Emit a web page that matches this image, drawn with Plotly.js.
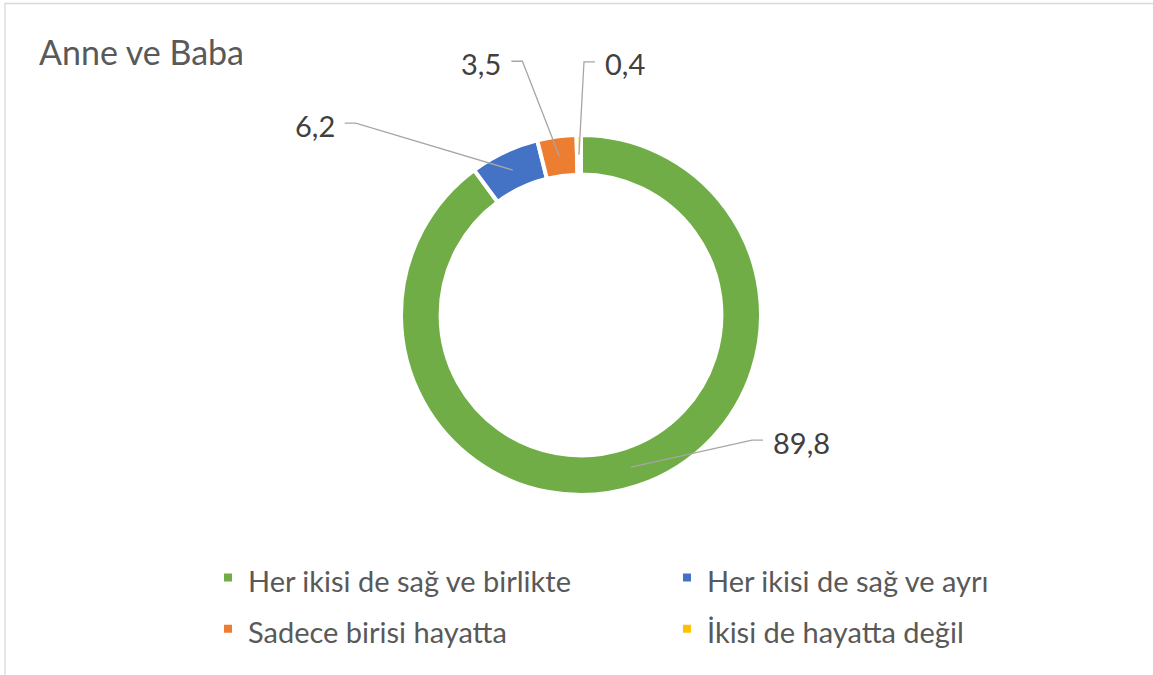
<!DOCTYPE html>
<html><head><meta charset="utf-8">
<script src="https://cdn.plot.ly/plotly-3.0.1.min.js"></script>
<style>html,body{margin:0;padding:0;background:#fff;}#chart{width:1153px;height:675px;}</style>
</head><body><div id="chart"></div>
<script>
const categories = ["Her ikisi de sağ ve birlikte", "Her ikisi de sağ ve ayrı", "Sadece birisi hayatta", "İkisi de hayatta değil"];
const values = [89.8, 6.2, 3.5, 0.4];
const valueLabels = ["89,8", "6,2", "3,5", "0,4"];
const colors = ["#70ad47", "#4472c4", "#ed7d31", "#ffc000"];

const W = 1153, H = 675;
const cx = 581, cy = 315, R = 180, hole = 0.78;
const FONT = "Lato, 'Open Sans', sans-serif";
// label leader geometry (px offsets from slice anchor): elbow dx,dy ; side of horizontal tick
const leader = [
  {dx: 121, dy: -27, side: 1},
  {dx: -157, dy: -47, side: -1},
  {dx: -37, dy: -95, side: -1},
  {dx: 5, dy: -93, side: 1}
];
const px = x => x / W, py = y => 1 - y / H;

const total = values.reduce((a, b) => a + b, 0);
const rMid = R * (1 + hole) / 2;
const shapes = [{type: 'rect', xref: 'paper', yref: 'paper', x0: px(5), x1: 1.2, y0: -0.2, y1: py(3.5),
  line: {color: '#d9d9d9', width: 1.3}, fillcolor: 'rgba(0,0,0,0)', layer: 'below'}];
const annotations = [{text: 'Anne ve Baba', xref: 'paper', yref: 'paper', x: px(37), y: py(52), xanchor: 'left', yanchor: 'middle',
  showarrow: false, font: {family: FONT, size: 34, color: '#595959'}}];
let cum = 0;
values.forEach((v, i) => {
  const ang = (cum + v / 2) / total * 2 * Math.PI;
  cum += v;
  const ax = cx + rMid * Math.sin(ang), ay = cy - rMid * Math.cos(ang);
  const L = leader[i];
  const ex = ax + L.dx, ey = ay + L.dy;
  const hx = ex + L.side * 11;
  shapes.push({type: 'path', xref: 'paper', yref: 'paper',
    path: `M ${px(ax)},${py(ay)} L ${px(ex)},${py(ey)} L ${px(hx)},${py(ey)}`,
    line: {color: '#a6a6a6', width: 1.3}});
  annotations.push({text: valueLabels[i], xref: 'paper', yref: 'paper', x: px(hx + L.side * 8), y: py(ey + 2),
    xanchor: L.side > 0 ? 'left' : 'right', yanchor: 'middle', showarrow: false,
    font: {family: FONT, size: 29, color: '#404040'}});
});

const legendLabels = categories.map(c => `<span style="font-size:29px">${c}</span>`);
const data = [{
  type: 'pie', labels: legendLabels, values: values, hole: hole, sort: false, direction: 'clockwise', rotation: 0,
  marker: {colors: colors, line: {color: '#ffffff', width: 4}},
  textinfo: 'none', hoverinfo: 'value',
  domain: {x: [px(cx - R), px(cx + R)], y: [py(cy + R), py(cy - R)]}
}];
const layout = {
  width: W, height: H, margin: {l: 0, r: 0, t: 0, b: 0, autoexpand: false},
  paper_bgcolor: '#ffffff', plot_bgcolor: '#ffffff',
  showlegend: true,
  legend: {orientation: 'h', x: px(208), y: py(547), xanchor: 'left', yanchor: 'top',
    entrywidth: 414, entrywidthmode: 'pixels', traceorder: 'normal',
    font: {family: FONT, size: 37, color: '#595959'}},
  shapes: shapes, annotations: annotations
};
Plotly.newPlot('chart', data, layout, {displayModeBar: false, staticPlot: true});
</script></body></html>
